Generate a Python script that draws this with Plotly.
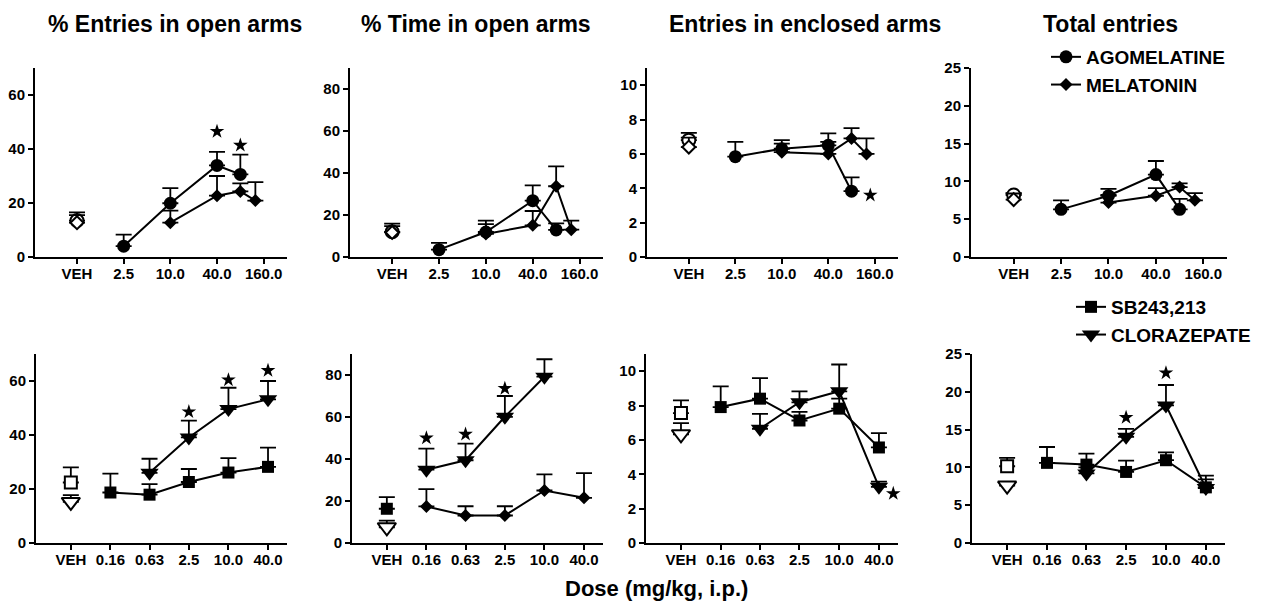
import plotly.graph_objects as go

W, H = 1261, 602
FONT = "Liberation Sans, Arial, sans-serif"

# ---------------- DATA ----------------
TOP_TICK_VALS = [0.625, 2.5, 10, 40, 160]
TOP_TICK_TEXT = ["VEH", "2.5", "10.0", "40.0", "160.0"]
BOT_TICK_VALS = [0.04, 0.16, 0.63, 2.5, 10, 40]
BOT_TICK_TEXT = ["VEH", "0.16", "0.63", "2.5", "10.0", "40.0"]
TOP_VEH = 0.625
BOT_VEH = 0.04

AGO_DOSE = [2.5, 10, 40, 80]
MEL_DOSE = [10, 40, 80, 125]
SB_DOSE = [0.16, 0.63, 2.5, 10, 40]
CLZ_DOSE = [0.63, 2.5, 10, 40]
CLZ_DOSE_TIME = [0.16, 0.63, 2.5, 10]

# % entries in open arms (top)
p1_veh_ago, p1_veh_ago_err = 13.5, 3.0
p1_veh_mel, p1_veh_mel_err = 12.7, 2.8
p1_ago = [4.0, 19.9, 33.9, 30.6]
p1_ago_err = [4.3, 5.6, 5.0, 7.3]
p1_mel = [12.7, 22.7, 24.3, 20.9]
p1_mel_err = [4.5, 7.3, 3.0, 6.8]
p1_star_x = [40, 80]
p1_star_y = [46.5, 41.4]

# % time in open arms (top)
p2_veh_ago, p2_veh_ago_err = 12.0, 3.9
p2_veh_mel, p2_veh_mel_err = 11.7, 3.0
p2_ago = [3.5, 11.9, 26.8, 12.9]
p2_ago_err = [3.2, 5.4, 7.3, 3.1]
p2_mel = [11.0, 15.1, 33.7, 13.0]
p2_mel_err = [4.7, 6.8, 9.5, 4.3]
p2_star_x = []
p2_star_y = []

# entries in enclosed arms (top)
p3_veh_ago, p3_veh_ago_err = 6.8, 0.42
p3_veh_mel, p3_veh_mel_err = 6.4, 0.55
p3_ago = [5.84, 6.3, 6.5, 3.83]
p3_ago_err = [0.86, 0.5, 0.7, 0.8]
p3_mel = [6.1, 6.0, 6.9, 6.0]
p3_mel_err = [0.5, 0.7, 0.6, 0.9]
p3_star_x = [140]
p3_star_y = [3.6]

# total entries (top)
p4_veh_ago, p4_veh_ago_err = 8.2, 0.25
p4_veh_mel, p4_veh_mel_err = 7.6, 0.8
p4_ago = [6.3, 8.1, 10.9, 6.3]
p4_ago_err = [1.2, 0.9, 1.8, 1.4]
p4_mel = [7.2, 8.1, 9.25, 7.5]
p4_mel_err = [1.0, 1.0, 0.5, 0.95]
p4_star_x = []
p4_star_y = []

# % entries in open arms (bottom)
p5_veh_sb, p5_veh_sb_err = 22.4, 5.6
p5_veh_clz, p5_veh_clz_err = 15.2, 2.5
p5_sb = [18.7, 17.9, 22.6, 26.1, 28.2]
p5_sb_err = [7.0, 3.9, 4.8, 5.3, 7.1]
p5_clz = [26.0, 39.1, 49.6, 53.2]
p5_clz_err = [5.2, 6.2, 7.9, 6.8]
p5_star_x = [2.5, 10, 40]
p5_star_y = [48.6, 60.4, 63.9]

# % time in open arms (bottom)
p6_veh_sb, p6_veh_sb_err = 16.3, 5.5
p6_veh_clz, p6_veh_clz_err = 7.5, 3.2
p6_sb = [17.4, 13.1, 13.1, 25.0, 21.5]
p6_sb_err = [8.3, 4.4, 4.4, 7.7, 11.8]
p6_clz = [34.9, 39.4, 60.1, 79.2]
p6_clz_err = [10.0, 7.9, 9.9, 8.3]
p6_star_x = [0.16, 0.63, 2.5, 10]
p6_star_y = [50.0, 51.8, 73.6, 91.5]

# entries in enclosed arms (bottom)
p7_veh_sb, p7_veh_sb_err = 7.56, 0.74
p7_veh_clz, p7_veh_clz_err = 6.33, 0.65
p7_sb = [7.91, 8.4, 7.13, 7.82, 5.56]
p7_sb_err = [1.21, 1.2, 0.5, 0.58, 0.83]
p7_clz = [6.65, 8.19, 8.83, 3.27]
p7_clz_err = [0.87, 0.64, 1.56, 0.3]
p7_star_x = [66]
p7_star_y = [2.88]

# total entries (bottom)
p8_veh_sb, p8_veh_sb_err = 10.15, 1.1
p8_veh_clz, p8_veh_clz_err = 7.6, 0.0
p8_sb = [10.6, 10.37, 9.4, 10.95, 7.36]
p8_sb_err = [2.1, 1.45, 1.5, 1.05, 1.55]
p8_clz = [9.2, 14.05, 18.2, 7.27]
p8_clz_err = [0.8, 1.05, 2.7, 1.15]
p8_star_x = [2.5, 10]
p8_star_y = [16.6, 22.5]

TITLES = ["% Entries in open arms", "% Time in open arms",
          "Entries in enclosed arms", "Total entries"]
XLABEL = "Dose (mg/kg, i.p.)"

# ---------------- LAYOUT (pixels) ----------------
# (left, right, top, bottom, ymax, dtick)
BOXES = [
    (35, 287, 68, 257, 70, 20),
    (350, 603, 68, 257, 90, 20),
    (647, 898, 68, 257, 11, 2),
    (971, 1227, 68, 257, 25, 5),
    (36, 287, 354, 543, 70, 20),
    (352, 603, 354, 543, 90, 20),
    (646, 898, 354, 543, 11, 2),
    (972, 1225, 354, 543, 25, 5),
]
TOP_XRANGE = [-0.746, 2.505]
BOT_XRANGE = [-1.928, 1.891]
TITLE_CENTERS = [175, 476, 805, 1110]

fig = go.Figure()

SIZES = {"circle": 13, "diamond": 10, "square": 12, "triangle-down": 16}


def series(i, x, y, err, symbol, name=None, legend=None, showlegend=False, open_=False):
    ax = "" if i == 0 else str(i + 1)
    fig.add_trace(go.Scatter(
        x=x, y=y, mode="lines+markers" if len(x) > 1 else "markers",
        xaxis="x" + ax, yaxis="y" + ax,
        name=name, legend=legend, showlegend=showlegend,
        line=dict(color="black", width=2),
        marker=dict(symbol=symbol, size=SIZES[symbol],
                    color="white" if open_ else "black",
                    line=dict(color="black", width=2 if open_ else 0)),
        error_y=dict(type="data", symmetric=False, array=err,
                     arrayminus=[0] * len(err), color="black",
                     thickness=1.8, width=8),
        cliponaxis=False,
    ))


def stars(i, x, y):
    if not x:
        return
    ax = "" if i == 0 else str(i + 1)
    fig.add_trace(go.Scatter(
        x=x, y=y, mode="markers", xaxis="x" + ax, yaxis="y" + ax,
        showlegend=False, cliponaxis=False,
        marker=dict(symbol="star", size=11, color="black", line=dict(width=0)),
    ))


top = [
    (p1_veh_ago, p1_veh_ago_err, p1_veh_mel, p1_veh_mel_err, p1_ago, p1_ago_err, p1_mel, p1_mel_err, p1_star_x, p1_star_y),
    (p2_veh_ago, p2_veh_ago_err, p2_veh_mel, p2_veh_mel_err, p2_ago, p2_ago_err, p2_mel, p2_mel_err, p2_star_x, p2_star_y),
    (p3_veh_ago, p3_veh_ago_err, p3_veh_mel, p3_veh_mel_err, p3_ago, p3_ago_err, p3_mel, p3_mel_err, p3_star_x, p3_star_y),
    (p4_veh_ago, p4_veh_ago_err, p4_veh_mel, p4_veh_mel_err, p4_ago, p4_ago_err, p4_mel, p4_mel_err, p4_star_x, p4_star_y),
]
for i, (va, vae, vm, vme, a, ae, m, me, sx, sy) in enumerate(top):
    series(i, [TOP_VEH], [va], [vae], "circle", open_=True)
    series(i, [TOP_VEH], [vm], [vme], "diamond", open_=True)
    series(i, AGO_DOSE, a, ae, "circle", name="AGOMELATINE", legend="legend", showlegend=(i == 0))
    series(i, MEL_DOSE, m, me, "diamond", name="MELATONIN", legend="legend", showlegend=(i == 0))
    stars(i, sx, sy)

bottom = [
    (p5_veh_sb, p5_veh_sb_err, p5_veh_clz, p5_veh_clz_err, p5_sb, p5_sb_err, p5_clz, p5_clz_err, p5_star_x, p5_star_y),
    (p6_veh_sb, p6_veh_sb_err, p6_veh_clz, p6_veh_clz_err, p6_sb, p6_sb_err, p6_clz, p6_clz_err, p6_star_x, p6_star_y),
    (p7_veh_sb, p7_veh_sb_err, p7_veh_clz, p7_veh_clz_err, p7_sb, p7_sb_err, p7_clz, p7_clz_err, p7_star_x, p7_star_y),
    (p8_veh_sb, p8_veh_sb_err, p8_veh_clz, p8_veh_clz_err, p8_sb, p8_sb_err, p8_clz, p8_clz_err, p8_star_x, p8_star_y),
]
for j, (vs, vse, vc, vce, s, se, c, ce, sx, sy) in enumerate(bottom):
    i = j + 4
    is_time = (j == 1)
    series(i, [BOT_VEH], [vs], [vse], "square", open_=not is_time)
    series(i, [BOT_VEH], [vc], [vce], "triangle-down", open_=True)
    series(i, SB_DOSE, s, se, "diamond" if is_time else "square",
           name="SB243,213", legend="legend2", showlegend=(j == 0))
    series(i, CLZ_DOSE_TIME if is_time else CLZ_DOSE, c, ce, "triangle-down",
           name="CLORAZEPATE", legend="legend2", showlegend=(j == 0))
    stars(i, sx, sy)

tickfont = dict(family=FONT, size=15, color="black", weight="bold")
layout = {}
for i, (l, r, t, b, ymax, dt) in enumerate(BOXES):
    ax = "" if i == 0 else str(i + 1)
    is_top = i < 4
    layout["xaxis" + ax] = dict(
        domain=[l / W, r / W], anchor="y" + ax, type="log",
        range=TOP_XRANGE if is_top else BOT_XRANGE,
        tickvals=TOP_TICK_VALS if is_top else BOT_TICK_VALS,
        ticktext=TOP_TICK_TEXT if is_top else BOT_TICK_TEXT,
        ticks="outside", ticklen=5, tickwidth=2, tickcolor="black",
        ticklabelstandoff=-3,
        showline=True, linewidth=2, linecolor="black",
        showgrid=False, zeroline=False, tickfont=tickfont,
    )
    layout["yaxis" + ax] = dict(
        domain=[1 - b / H, 1 - t / H], anchor="x" + ax,
        range=[0, ymax], dtick=dt, tick0=0,
        ticks="outside", ticklen=5, tickwidth=2, tickcolor="black",
        showline=True, linewidth=2, linecolor="black",
        showgrid=False, zeroline=False, tickfont=tickfont,
    )

annotations = []
for txt, cx in zip(TITLES, TITLE_CENTERS):
    annotations.append(dict(text=txt, x=cx / W, y=1 - 24 / H, xref="paper", yref="paper",
                            xanchor="center", yanchor="middle", showarrow=False,
                            font=dict(family=FONT, size=23, color="black", weight="bold")))
annotations.append(dict(text=XLABEL, x=656 / W, y=1 - 588 / H, xref="paper", yref="paper",
                        xanchor="center", yanchor="middle", showarrow=False,
                        font=dict(family=FONT, size=22, color="black", weight="bold")))

legfont = dict(family=FONT, size=19, color="black", weight="bold")
fig.update_layout(
    width=W, height=H, autosize=False,
    margin=dict(l=0, r=0, t=0, b=0, autoexpand=False),
    paper_bgcolor="white", plot_bgcolor="white",
    annotations=annotations,
    legend=dict(x=1046 / W, y=1 - 38 / H, xanchor="left", yanchor="top",
                bgcolor="rgba(0,0,0,0)", font=legfont, itemwidth=30,
                tracegroupgap=0),
    legend2=dict(x=1071 / W, y=1 - 288 / H, xanchor="left", yanchor="top",
                 bgcolor="rgba(0,0,0,0)", font=legfont, itemwidth=30,
                 tracegroupgap=0),
    **layout,
)

fig.write_html("out.html")
